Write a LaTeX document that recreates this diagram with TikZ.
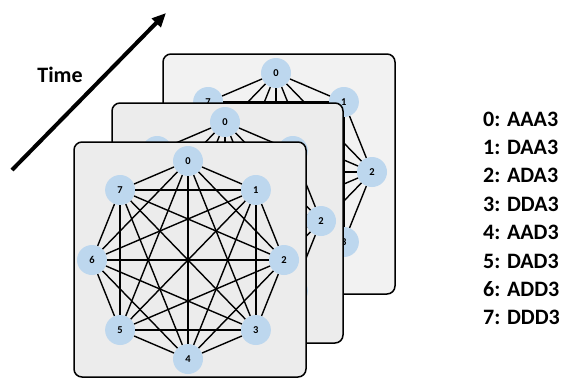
\documentclass[tikz,border=0pt]{standalone}
\usepackage{fontspec}
\setmainfont{Carlito}
\usetikzlibrary{arrows.meta}
\definecolor{vertexblue}{HTML}{BDD7EE}
\definecolor{panellight}{HTML}{F2F2F2}
\definecolor{panelgray}{HTML}{ECECEC}
\tikzset{
  panel/.style={draw=black, line width=1.5pt, rounded corners=8pt, inner sep=0pt},
  vertex/.style={circle, fill=vertexblue, minimum size=30pt, inner sep=0pt,
    font=\fontsize{10.5}{10.5}\selectfont\bfseries},
  edge/.style={line width=1.4pt},
  legend/.style={anchor=west, inner sep=0pt, font=\fontsize{22}{22}\selectfont\bfseries},
}
% #1 prefix, #2 fill, #3/#4 panel centre, #5/#6 panel size, #7/#8 graph centre
\newcommand\graphlayer[8]{%
  \node[panel, fill=#2, minimum width=#5pt, minimum height=#6pt] (#1panel) at (#3,#4) {};
  \foreach \k in {0,...,7} {
    \node[vertex] (#1\k) at ({#7+96*sin(45*\k)},{#8-99*cos(45*\k)}) {\k};
  }
  \foreach \i in {0,...,6} {
    \pgfmathtruncatemacro\nxt{\i+1}
    \foreach \j in {\nxt,...,7} {
      \draw[edge] (#1\i) -- (#1\j);
    }
  }
}
\begin{document}
\begin{tikzpicture}[x=1pt, y=-1pt]
  \useasboundingbox (0,0) rectangle (561,378);
  % stacked snapshots of the complete graph, back to front
  \graphlayer{b}{panellight}{279}{174}{232}{240}{276}{172}
  \graphlayer{m}{panelgray}{227.5}{223}{231}{240}{225}{221}
  \graphlayer{f}{panelgray}{190}{259.5}{232}{235}{188}{260}
  % time axis
  \coordinate (tstart) at (12,170);
  \coordinate (tend) at (166,13);
  \draw[line width=4pt, -{Triangle[length=14pt,width=12pt]}] (tstart) -- (tend);
  \node[font=\fontsize{22}{22}\selectfont\bfseries] (time) at (60,75) {Time};
  % vertex legend
  \foreach \k/\lab in {0/AAA3,1/DAA3,2/ADA3,3/DDA3,4/AAD3,5/DAD3,6/ADD3,7/DDD3} {
    \node[legend] (leg\k) at (483,{119+28.4*\k}) {\k: \lab};
  }
\end{tikzpicture}
\end{document}
